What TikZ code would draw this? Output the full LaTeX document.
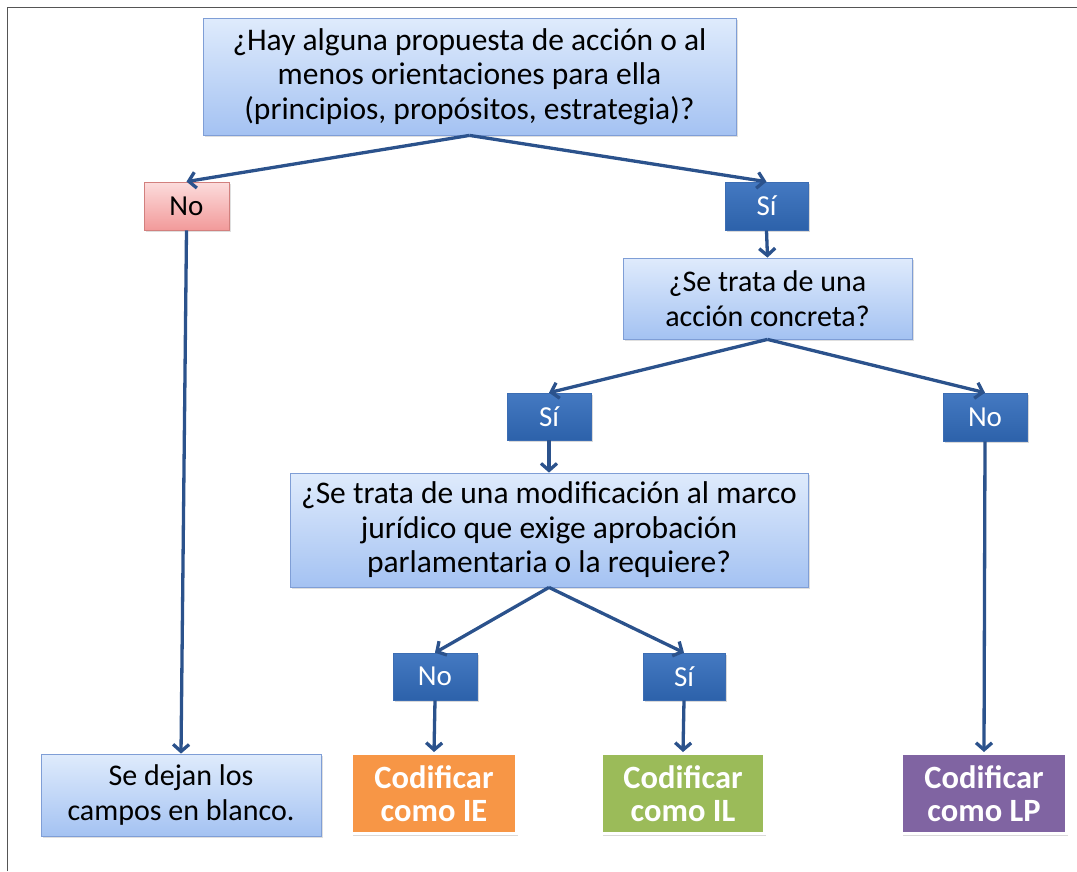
\documentclass[tikz,border=0pt]{standalone}
\usepackage{fontspec}
\setmainfont{Carlito}
\usetikzlibrary{arrows.meta,shadows}
\definecolor{arrowblue}{HTML}{2B528C}
\definecolor{framegray}{HTML}{555555}
\definecolor{qtop}{HTML}{DFEBFC}
\definecolor{qbot}{HTML}{A4C2F2}
\definecolor{qborder}{HTML}{7F9ED6}
\definecolor{dtop}{HTML}{4479C2}
\definecolor{dbot}{HTML}{2D62AA}
\definecolor{dborder}{HTML}{3C6DB3}
\definecolor{rtop}{HTML}{FCDCDC}
\definecolor{rbot}{HTML}{F29A9A}
\definecolor{rborder}{HTML}{D2807E}
\definecolor{orangefill}{HTML}{F79646}
\definecolor{greenfill}{HTML}{9BBB59}
\definecolor{purplefill}{HTML}{8064A2}
\tikzset{
  boxbase/.style={rectangle, inner sep=0pt, align=center},
  qbox/.style={boxbase, top color=qtop, bottom color=qbot, draw=qborder, line width=0.8pt,
    font=\fontsize{30}{35}\selectfont,
    drop shadow={shadow xshift=1.5pt, shadow yshift=-2pt, opacity=0.25}},
  bigq/.style={qbox, font=\fontsize{31.5}{34.5}\selectfont},
  darkbox/.style={boxbase, top color=dtop, bottom color=dbot, draw=dborder, line width=0.6pt,
    text=white, font=\fontsize{29}{32}\selectfont,
    drop shadow={shadow xshift=1.5pt, shadow yshift=-2pt, opacity=0.3}},
  redbox/.style={boxbase, top color=rtop, bottom color=rbot, draw=rborder, line width=0.8pt,
    text=black, font=\fontsize{29}{32}\selectfont,
    drop shadow={shadow xshift=1.5pt, shadow yshift=-2pt, opacity=0.25}},
  outbox/.style={boxbase, draw=white, line width=3pt, text=white,
    font=\bfseries\fontsize{32.5}{33}\selectfont,
    drop shadow={shadow xshift=1.5pt, shadow yshift=-2.5pt, opacity=0.3}},
  arr/.style={draw=arrowblue, line width=3.3pt, -{Straight Barb[length=7pt,width=16pt]}},
}
\begin{document}
\begin{tikzpicture}[x=1pt,y=-1pt]
\useasboundingbox (0,0) rectangle (1077,871);
\draw[framegray, line width=1.2pt] (7.5,871) -- (7.5,7.5) -- (1077,7.5);

\node[bigq, minimum width=533pt, minimum height=117pt] (q1) at (469.5,76.5)
  {¿Hay alguna propuesta de acción o al\\menos orientaciones para ella\\(principios, propósitos, estrategia)?};
\node[redbox, minimum width=85pt, minimum height=48pt] (no1) at (186.5,206) {No};
\node[darkbox, minimum width=83pt, minimum height=48pt] (si1) at (766.5,206) {Sí};
\node[qbox, minimum width=289pt, minimum height=81pt] (q2) at (767.5,298.5)
  {¿Se trata de una\\acción concreta?};
\node[darkbox, minimum width=84pt, minimum height=47pt] (si2) at (549,416.5) {Sí};
\node[darkbox, minimum width=84pt, minimum height=48pt] (no2) at (985,417) {No};
\node[bigq, minimum width=518pt, minimum height=114pt] (q3) at (549,530)
  {¿Se trata de una modificación al marco\\jurídico que exige aprobación\\parlamentaria o la requiere?};
\node[darkbox, minimum width=84pt, minimum height=47pt] (no3) at (435,676.5) {No};
\node[darkbox, minimum width=82pt, minimum height=47pt] (si3) at (684,676.5) {Sí};
\node[qbox, minimum width=280pt, minimum height=82pt] (blank) at (181,795)
  {Se dejan los\\campos en blanco.};
\node[outbox, fill=orangefill, minimum width=165pt, minimum height=80pt] (ie) at (434,793.5)
  {Codificar\\como IE};
\node[outbox, fill=greenfill, minimum width=163pt, minimum height=80pt] (il) at (683,793.5)
  {Codificar\\como IL};
\node[outbox, fill=purplefill, minimum width=165pt, minimum height=80pt] (lp) at (984,793.5)
  {Codificar\\como LP};

\draw[arr] (q1.south) -- (no1.north);
\draw[arr] (q1.south) -- (si1.north);
\draw[arr] (no1.south) -- (blank.north);
\draw[arr] (si1.south) -- (q2.north);
\draw[arr] (q2.south) -- (si2.north);
\draw[arr] (q2.south) -- (no2.north);
\draw[arr] (no2.south) -- (lp.north);
\draw[arr] (si2.south) -- (q3.north);
\draw[arr] (q3.south) -- (no3.north);
\draw[arr] (q3.south) -- (si3.north);
\draw[arr] (no3.south) -- (ie.north);
\draw[arr] (si3.south) -- (il.north);
\end{tikzpicture}
\end{document}
